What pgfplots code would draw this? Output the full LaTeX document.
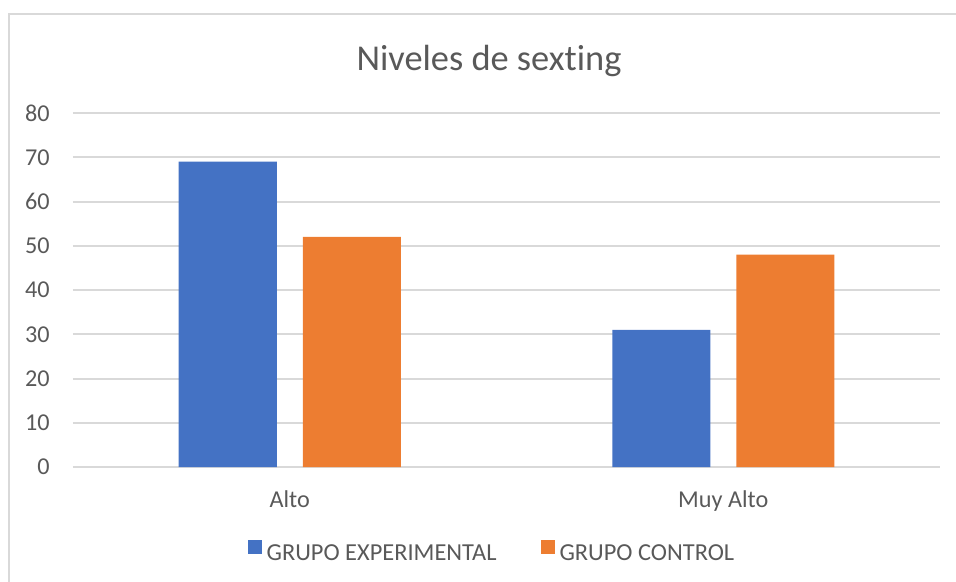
\documentclass[border=0pt]{standalone}
\usepackage{fontspec}
\setmainfont{Carlito}[Ligatures=NoCommon]
\usepackage{pgfplots}
\pgfplotsset{compat=1.18}
\definecolor{blueE}{HTML}{4472C4}
\definecolor{orangeC}{HTML}{ED7D31}
\definecolor{txt}{HTML}{595959}
\definecolor{gridc}{HTML}{D9D9D9}
\begin{document}
\begin{tikzpicture}
\path[use as bounding box] (0,0) rectangle (478bp,-291bp);
\begin{scope}
\clip (0,0) rectangle (478bp,-291bp);
\draw[gridc, line width=0.6bp] (4.5bp,-7bp) rectangle (520bp,-320bp);
\end{scope}
\node[anchor=base, text=txt, inner sep=0pt, font=\fontsize{18.2bp}{22bp}\selectfont] at (244.5bp,-35bp) {Niveles de sexting};
\begin{axis}[
  at={(36.5bp,-233.5bp)}, anchor=south west,
  scale only axis, width=433.5bp, height=177bp,
  ybar=13bp, bar width=49bp,
  xmin=-0.5, xmax=1.5, ymin=0, ymax=80,
  enlargelimits=false,
  xtick={0,1}, xticklabels={Alto, Muy Alto},
  ytick={0,10,...,80},
  axis line style={draw=none},
  major tick length=0pt,
  ymajorgrids, grid style={gridc, line width=1bp},
  tick label style={font=\fontsize{12.1bp}{14bp}\selectfont, text=txt},
  /pgf/number format/assume math mode=true,
  yticklabel style={anchor=east, inner sep=0pt, xshift=-11.5bp},
  xticklabel style={anchor=base, inner sep=0pt, yshift=-20bp},
  legend columns=2,
  legend style={at={(0.482,-0.2387)}, anchor=center, draw=none, fill=none,
    font=\fontsize{12.2bp}{14bp}\selectfont, text=txt,
    nodes={inner sep=0pt},
    /tikz/every even column/.append style={column sep=22bp},
    /tikz/every odd column/.append style={column sep=2.5bp}},
  legend image code/.code={\fill[#1] (0bp,0bp) rectangle (7bp,7bp);},
]
\addplot[fill=blueE, draw=none] coordinates {(0,69) (1,31)};
\addplot[fill=orangeC, draw=none] coordinates {(0,52) (1,48)};
\legend{GRUPO EXPERIMENTAL, GRUPO CONTROL}
\end{axis}
\end{tikzpicture}
\end{document}
